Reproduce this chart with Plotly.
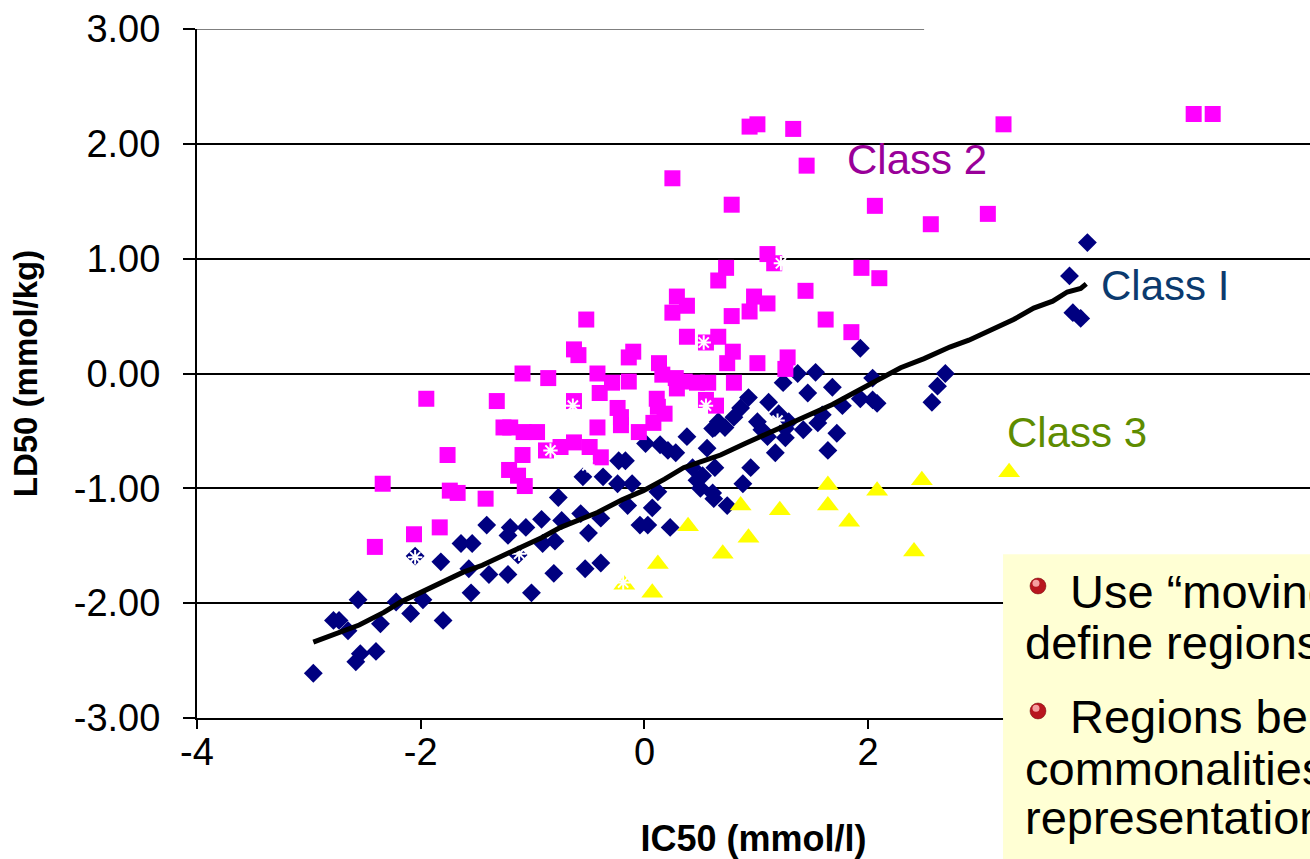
import plotly.graph_objects as go

# ---------------- data ----------------
class1_ic50 = [-2.96, -2.78, -2.73, -2.65, -2.56, -2.58, -2.54, -2.40, -2.36, -2.22, -2.09, -1.98,
               -2.05, -1.82, -1.80, -1.64, -1.54, -1.41, -1.57, -1.55, -1.39, -1.22, -1.20, -1.22,
               -1.13, -1.06, -1.01, -0.92, -0.91, -0.81, -0.80, -0.77, -0.74, -0.57, -0.53, -0.50,
               -0.39, -0.55, -0.37, -0.39, -0.24, -0.23, -0.17, -0.15, -0.11, -0.04,
               0.01, 0.14, 0.21, 0.28, 0.38, 0.56, 0.63, 0.12, 0.07, 0.03, 0.23, 0.43, 0.47, 0.50,
               0.61, 0.63, 0.52, 0.62, 0.74, 0.95, 0.88,
               0.66, 0.61, 0.72, 0.80, 0.86, 0.93, 1.11, 1.20, 1.01, 1.05, 1.10, 1.26, 1.26, 1.29,
               1.17, 1.24, 1.37, 1.53, 1.68, 1.46, 1.77, 1.93, 2.04, 2.08, 2.04, 1.59, 1.55, 1.42,
               1.72, 1.64, 1.93,
               2.57, 2.62, 2.69, 3.96, 3.80, 3.83, 3.90]
class1_ld50 = [-2.61, -2.15, -2.15, -2.24, -1.97, -2.51, -2.44, -2.42, -2.18, -1.99, -2.09, -1.97,
               -1.59, -1.64, -2.15, -1.48, -1.48, -1.32, -1.70, -1.91, -1.75, -1.75, -1.34, -1.41,
               -1.58, -1.34, -1.91, -1.27, -1.48, -1.74, -1.46, -1.08, -1.28, -1.22, -1.70, -1.39,
               -1.65, -0.90, -0.90, -1.26, -0.96, -0.76, -0.76, -1.15, -0.96, -1.32,
               -0.61, -0.62, -0.67, -0.69, -0.55, -0.65, -0.47, -1.03, -1.17, -1.32, -1.34, -0.82,
               -0.93, -1.00, -1.04, -0.82, -0.89, -1.09, -1.15, -0.82, -0.96,
               -0.42, -0.48, -0.47, -0.38, -0.30, -0.21, -0.25, -0.35, -0.42, -0.49, -0.55, -0.48,
               -0.56, -0.42, -0.69, -0.08, 0.00, 0.01, -0.12, -0.17, -0.28, -0.22, -0.04, -0.26,
               -0.23, -0.36, -0.43, -0.49, -0.52, -0.67, 0.22,
               -0.25, -0.11, 0.00, 1.14, 0.85, 0.53, 0.48]

class2_ic50 = [0.94, 1.01, 1.33, 0.25, 0.78, 1.45, 3.21, 4.91, 5.08, 2.06, 2.56, 3.07, 1.94, 2.10,
               1.44, 1.62, 1.85,
               1.10, 1.16, 0.73, 0.66, 0.29, 0.38, 0.25, 0.98, 1.10, 0.94, 0.78, -0.52, 0.38, 0.66,
               0.55, 0.79, 0.74, 1.01, 1.28, 1.26,
               -0.63, -0.59, -0.14, -0.10, 0.13, -1.09, -0.86, -0.42, -0.29, -0.14, 0.16, 0.28,
               0.36, 0.29, 0.47, 0.57, 0.80,
               -1.95, -1.32, -0.63, -0.40, -0.24, -0.21, -0.21, 0.11, 0.12, 0.18, 0.08, -0.05,
               0.55, 0.64, -1.26, -1.20, -1.08, -0.96, -0.42,
               -1.76, -1.09, -0.88, -0.75, -0.63, -0.49, -0.39, -1.21, -1.13, -1.07, -2.34, -1.74,
               -1.67, -1.42, -1.83, -2.06, -2.41]
class2_ld50 = [2.15, 2.17, 2.13, 1.70, 1.47, 1.81, 2.17, 2.26, 2.26, 1.46, 1.30, 1.39, 0.92, 0.83,
               0.72, 0.47, 0.36,
               1.04, 0.96, 0.92, 0.81, 0.67, 0.59, 0.53, 0.67, 0.61, 0.54, 0.50, 0.47, 0.32, 0.32,
               0.27, 0.19, 0.09, 0.09, 0.14, 0.04,
               0.21, 0.16, 0.14, 0.19, 0.09, 0.00, -0.04, 0.00, -0.08, -0.07, -0.01, -0.04,
               -0.07, -0.13, -0.08, -0.08, -0.08,
               -0.22, -0.24, -0.24, -0.17, -0.30, -0.38, -0.45, -0.22, -0.29, -0.35, -0.43, -0.51,
               -0.23, -0.28, -0.47, -0.47, -0.51, -0.51, -0.47,
               -0.71, -0.71, -0.67, -0.64, -0.60, -0.64, -0.73, -0.84, -0.89, -0.98, -0.96, -1.02,
               -1.04, -1.09, -1.34, -1.40, -1.51]

class3_ic50 = [-0.18, 0.07, 0.12, 0.39, 0.70, 0.86, 0.93, 1.21, 1.64, 1.64, 1.83, 2.08, 2.48, 2.41, 3.26]
class3_ld50 = [-1.84, -1.91, -1.66, -1.33, -1.57, -1.15, -1.43, -1.19, -0.97, -1.15, -1.29, -1.02,
               -0.93, -1.55, -0.86]

other_ic50 = [1.22, 0.53, -0.64, -0.84, 0.55, -0.19, -1.12, -1.39, -2.05, 1.19, -0.51]
other_ld50 = [0.96, 0.27, -0.28, -0.67, -0.28, -1.82, -1.57, -1.55, -1.60, -0.41, -0.80]

trend_ic50 = [-2.96, -2.74, -2.55, -2.33, -2.18, -2.05, -1.85, -1.62, -1.45, -1.29, -1.11, -0.92,
              -0.75, -0.58, -0.42, -0.20, -0.01, 0.18, 0.35, 0.50, 0.68, 0.90, 1.10, 1.30, 1.48,
              1.68, 1.87, 2.05, 2.29, 2.50, 2.73, 2.90, 3.09, 3.30, 3.48, 3.65, 3.78, 3.90, 3.95]
trend_ld50 = [-2.34, -2.26, -2.19, -2.08, -1.99, -1.93, -1.84, -1.73, -1.67, -1.60, -1.51, -1.43,
              -1.34, -1.27, -1.21, -1.10, -1.02, -0.92, -0.82, -0.77, -0.71, -0.61, -0.52, -0.44,
              -0.35, -0.27, -0.17, -0.08, 0.05, 0.13, 0.23, 0.29, 0.38, 0.47, 0.57, 0.63, 0.71,
              0.74, 0.78]

x_tick_vals = [-4, -2, 0, 2, 4, 6]
x_tick_labels = ["-4", "-2", "0", "2", "4", "6"]
y_tick_vals = [-3, -2, -1, 0, 1, 2, 3]
y_tick_labels = ["-3.00", "-2.00", "-1.00", "0.00", "1.00", "2.00", "3.00"]

box_lines = ["Use \u201cmoving window\u201d to", "define regions of the map",
             "Regions benefit from", "commonalities in the", "representation"]

FONT = "Arial, 'Liberation Sans', Helvetica, sans-serif"

fig = go.Figure()
fig.add_trace(go.Scatter(x=class1_ic50, y=class1_ld50, mode="markers", name="Class I",
                         marker=dict(symbol="diamond", size=14.5, color="#000080",
                                     line=dict(width=0))))
fig.add_trace(go.Scatter(x=class2_ic50, y=class2_ld50, mode="markers", name="Class 2",
                         marker=dict(symbol="square", size=16, color="#FF00FF",
                                     line=dict(width=0))))
fig.add_trace(go.Scatter(x=class3_ic50, y=class3_ld50, mode="markers", name="Class 3",
                         marker=dict(symbol="triangle-up", size=19, color="#FFFF00",
                                     line=dict(width=0))))
fig.add_trace(go.Scatter(x=other_ic50, y=other_ld50, mode="markers", name="other",
                         marker=dict(symbol="asterisk-open", size=12, color="white",
                                     line=dict(width=2, color="white"))))
fig.add_trace(go.Scatter(x=trend_ic50, y=trend_ld50, mode="lines", name="trend",
                         line=dict(color="black", width=5)))

fig.update_layout(
    width=1310, height=859,
    margin=dict(l=197, r=0, t=29, b=141, pad=0),
    plot_bgcolor="white", paper_bgcolor="white",
    showlegend=False,
    font=dict(family=FONT, color="black", size=38),
    xaxis=dict(range=[-4, 5.95], tickvals=x_tick_vals, ticktext=x_tick_labels,
               showgrid=False, zeroline=False, showline=True, linecolor="black", linewidth=2,
               ticks="outside", ticklen=9, tickwidth=2, tickcolor="black",
               ticklabelstandoff=-10,
               tickfont=dict(size=38, family=FONT),
               title=dict(text="<b>IC50 (mmol/l)</b>", font=dict(size=36, family=FONT),
                          standoff=60)),
    yaxis=dict(range=[-3, 3], tickvals=y_tick_vals, ticktext=y_tick_labels,
               showgrid=True, gridcolor="black", gridwidth=2, zeroline=False,
               showline=True, linecolor="black", linewidth=2,
               ticks="outside", ticklen=12, tickwidth=2, tickcolor="black",
               ticklabelstandoff=15,
               tickfont=dict(size=38, family=FONT),
               title=dict(text="<b>LD50 (mmol/kg)</b>", font=dict(size=33, family=FONT),
                          standoff=26)),
)

# top border line at 3.00: grey on the left part, hidden on the right
fig.add_shape(type="line", xref="x", yref="y", x0=2.5, x1=6, y0=3, y1=3,
              line=dict(color="white", width=4), layer="between")
fig.add_shape(type="line", xref="x", yref="y", x0=-4, x1=2.5, y0=3, y1=3,
              line=dict(color="#7f7f7f", width=2), layer="between")

# class labels
fig.add_annotation(x=2.44, y=1.86, xref="x", yref="y", text="Class 2", showarrow=False,
                   font=dict(size=42, color="#990099", family=FONT))
fig.add_annotation(x=4.65, y=0.77, xref="x", yref="y", text="Class I", showarrow=False,
                   font=dict(size=42, color="#0B3A6E", family=FONT))
fig.add_annotation(x=3.87, y=-0.51, xref="x", yref="y", text="Class 3", showarrow=False,
                   font=dict(size=42, color="#5E8C00", family=FONT))

# yellow text box overlapping the chart
fig.add_shape(type="rect", xref="paper", yref="paper", x0=0.7242, x1=1.05, y0=-0.3, y1=0.2378,
              fillcolor="#FFFFD4", line=dict(width=0), layer="above")
for yb in [0.1916, 0.0102]:
    fig.add_shape(type="circle", xref="paper", yref="paper", xsizemode="pixel",
                  ysizemode="pixel", xanchor=0.7556, yanchor=yb, x0=-8, x1=8, y0=-8, y1=8,
                  fillcolor="#B8161E", line=dict(width=0.5, color="#6E0A0E"), layer="above")
    fig.add_shape(type="circle", xref="paper", yref="paper", xsizemode="pixel",
                  ysizemode="pixel", xanchor=0.7538, yanchor=yb + 0.004, x0=-3.5, x1=3.5,
                  y0=-3.5, y1=3.5, fillcolor="#F4A0A0", line=dict(width=0), layer="above")

line_x = [0.7826, 0.7421, 0.7826, 0.7421, 0.7421]
line_y = [0.1829, 0.1089, 0.0029, -0.0726, -0.1451]
for txt, lx, ly in zip(box_lines, line_x, line_y):
    fig.add_annotation(x=lx, y=ly, xref="paper", yref="paper", text=txt, showarrow=False,
                       xanchor="left", yanchor="middle",
                       font=dict(size=47, color="black", family=FONT))

fig.write_html("out.html")
